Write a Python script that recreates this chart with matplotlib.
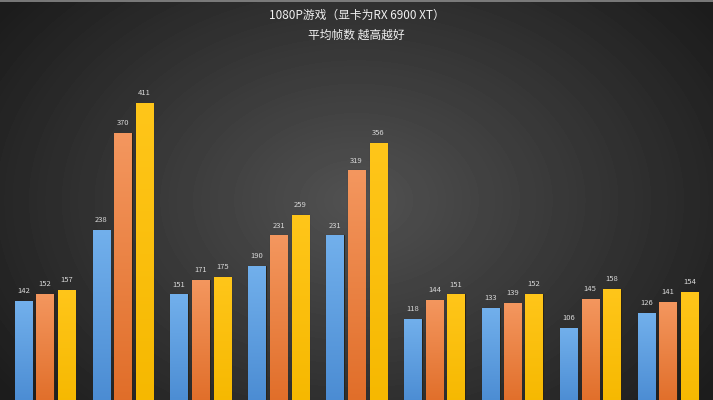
import numpy as np
import matplotlib
matplotlib.use("Agg")
import matplotlib.pyplot as plt
from matplotlib.colors import LinearSegmentedColormap

plt.rcParams['font.family'] = ['Noto Sans CJK SC', 'DejaVu Sans']

# data (one group per game, three cpus per group)
groups = list(range(9))
series_a = [142, 238, 151, 190, 231, 118, 133, 106, 126]
series_b = [152, 370, 171, 231, 319, 144, 139, 145, 141]
series_c = [157, 411, 175, 259, 356, 151, 152, 158, 154]

title = "1080P游戏（显卡为RX 6900 XT）"
subtitle = "平均帧数 越高越好"

# gradient colours (top, bottom)
grads = [("#72b0ec", "#4a8bd2"), ("#f4975f", "#e06d28"), ("#ffc61a", "#f6b800")]

fig = plt.figure(figsize=(7.13, 4.0), dpi=100)

# radial background
bg = fig.add_axes([0, 0, 1, 1])
bg.axis("off")
yy, xx = np.mgrid[0:400, 0:713]
r = np.sqrt(((xx - 356) / 420.0) ** 2 + ((yy - 200) / 300.0) ** 2)
shade = np.clip(0.32 - 0.2 * r, 0.11, 0.32)
bg.imshow(shade, cmap="gray", vmin=0, vmax=1, aspect="auto",
          extent=[0, 1, 0, 1], origin="upper")
bg.axhline(0.997, color="#8a8a8a", lw=1.2)
bg.set_xlim(0, 1)
bg.set_ylim(0, 1)

ax = fig.add_axes([0, 0, 1, 1])
ax.patch.set_alpha(0)
ax.axis("off")
ax.set_xlim(-0.578, 8.575)
ax.set_ylim(8, 550)

w = 0.225
off = 0.278
x = np.array(groups, dtype=float)
for i, (vals, (top, bot)) in enumerate(zip([series_a, series_b, series_c], grads)):
    xs = x + (i - 1) * off
    bars = ax.bar(xs, vals, width=w, color=bot, edgecolor="#2a2418",
                  linewidth=0.8, zorder=2)
    cmap = LinearSegmentedColormap.from_list("g%d" % i, [bot, top])
    grad = np.linspace(0, 1, 256).reshape(-1, 1)
    for b, v in zip(bars, vals):
        im = ax.imshow(grad, cmap=cmap, aspect="auto", origin="lower",
                       extent=[b.get_x(), b.get_x() + w, 0, v], zorder=2.5)
        im.set_clip_path(b)
        ax.text(b.get_x() + w / 2, v + 8, str(v), ha="center", va="bottom",
                fontsize=5.5, color="#d8d8d8", zorder=3)
    ax.set_xlim(-0.578, 8.575)
    ax.set_ylim(8, 550)

fig.text(0.5, 0.962, title, ha="center", va="center", fontsize=8.5,
         color="#f0f0f0")
fig.text(0.5, 0.912, subtitle, ha="center", va="center", fontsize=8.5,
         color="#f0f0f0")

fig.savefig("out.png", dpi=100)
